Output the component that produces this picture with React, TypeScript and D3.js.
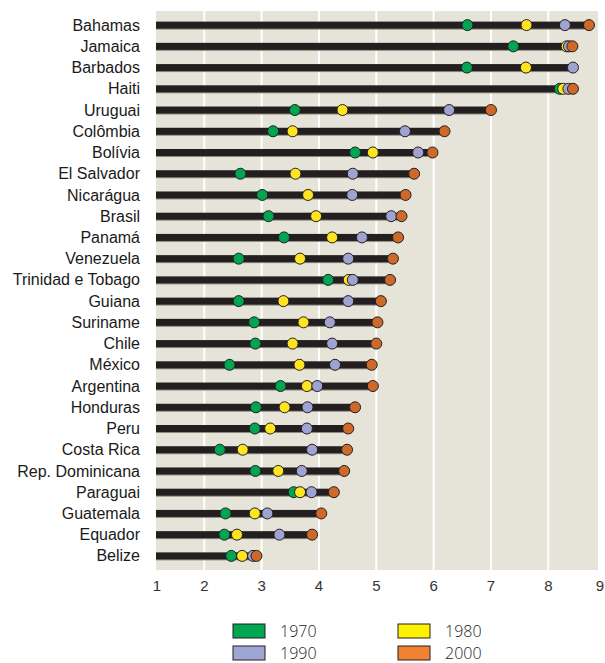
import React from "react";
import * as d3 from "d3";

// taxa de fecundidade por país e ano
const countries = [
  "Bahamas", "Jamaica", "Barbados", "Haiti", "Uruguai", "Colômbia", "Bolívia",
  "El Salvador", "Nicarágua", "Brasil", "Panamá", "Venezuela", "Trinidad e Tobago",
  "Guiana", "Suriname", "Chile", "México", "Argentina", "Honduras", "Peru",
  "Costa Rica", "Rep. Dominicana", "Paraguai", "Guatemala", "Equador", "Belize",
];
const v1970 = [6.59, 7.39, 6.58, 8.2, 3.58, 3.2, 4.63, 2.63, 3.01, 3.12, 3.39, 2.6, 4.16, 2.6, 2.87, 2.89, 2.44, 3.33, 2.9, 2.88, 2.27, 2.89, 3.56, 2.37, 2.35, 2.47];
const v1980 = [7.62, 8.32, 7.61, 8.26, 4.41, 3.54, 4.94, 3.59, 3.81, 3.95, 4.23, 3.67, 4.52, 3.38, 3.73, 3.54, 3.66, 3.79, 3.4, 3.15, 2.67, 3.29, 3.67, 2.88, 2.57, 2.66];
const v1990 = [8.29, 8.36, 8.43, 8.35, 6.27, 5.5, 5.73, 4.59, 4.58, 5.26, 4.75, 4.51, 4.59, 4.51, 4.19, 4.23, 4.28, 3.97, 3.8, 3.79, 3.88, 3.7, 3.87, 3.1, 3.31, 2.85];
const v2000 = [8.71, 8.42, null, 8.43, 7.0, 6.19, 5.98, 5.66, 5.51, 5.44, 5.38, 5.29, 5.24, 5.08, 5.02, 5.0, 4.92, 4.94, 4.63, 4.51, 4.49, 4.44, 4.26, 4.04, 3.88, 2.91];
const years = ["1970", "1980", "1990", "2000"];
const ticks = [1, 2, 3, 4, 5, 6, 7, 8, 9];

const dotColors = ["#00a551", "#ffe51f", "#9ea3d2", "#cd6a2a"];
const legendColors = ["#00a651", "#fff200", "#9fa6d4", "#f08232"];

const W = 605, H = 663;
const font = "'Liberation Sans Narrow', 'Liberation Sans', Arial, sans-serif";

export default function App() {
  const series = [v1970, v1980, v1990, v2000];
  const x = d3.scaleLinear().domain([2, 8]).range([204.3, 548.3]);
  const y = d3.scaleBand().domain(countries).range([14.5, 566.5]);
  const left = 156, right = 598, top = 11, bottom = 570;
  const cy = (c: string) => (y(c) as number) + y.bandwidth() / 2;

  return (
    <svg width={W} height={H} style={{ position: "absolute", left: 0, top: 0, background: "#fff" }}>
      <rect x={left} y={top} width={right - left} height={bottom - top} fill="#e6e4d9" />
      {ticks.filter(t => x(t) > left + 2 && x(t) < right - 2).map(t => (
        <line key={t} x1={x(t)} x2={x(t)} y1={top} y2={bottom} stroke="#fff" strokeWidth={2} />
      ))}
      {countries.map((c, i) => {
        const vals = series.map(s => s[i]).filter(v => v != null) as number[];
        const end = x(d3.max(vals) as number);
        const yc = cy(c);
        return (
          <g key={c}>
            <text x={140} y={yc} dy="0.35em" textAnchor="end" fontFamily={font} fontSize={16} fill="#1a1a1a">{c}</text>
            <rect x={left} y={yc - 2.5} width={end - left} height={7} fill="#8c897f" />
            <rect x={left} y={yc - 3.5} width={end - left} height={7} fill="#231f20" />
            {series.map((s, k) => s[i] == null ? null : (
              <circle key={k} cx={x(s[i] as number)} cy={yc} r={5.5} fill={dotColors[k]} stroke="#231f20" strokeWidth={1} />
            ))}
          </g>
        );
      })}
      {ticks.map(t => (
        <text key={t} x={Math.min(Math.max(x(t), left + 1), right + 2)} y={586} dy="0.35em" textAnchor="middle"
          fontFamily={font} fontSize={15} fill="#333">{t}</text>
      ))}
      {years.map((yr, k) => {
        const lx = k % 2 === 0 ? 233 : 398;
        const ly = k < 2 ? 624 : 646;
        return (
          <g key={yr}>
            <rect x={lx} y={ly} width={32} height={14} fill={legendColors[k]} stroke="#231f20" strokeWidth={1} />
            <text x={lx + 47} y={ly + 7.5} dy="0.35em" fontFamily="'Open Sans', sans-serif" fontWeight={300} fontSize={16} fill="#222">{yr}</text>
          </g>
        );
      })}
    </svg>
  );
}
